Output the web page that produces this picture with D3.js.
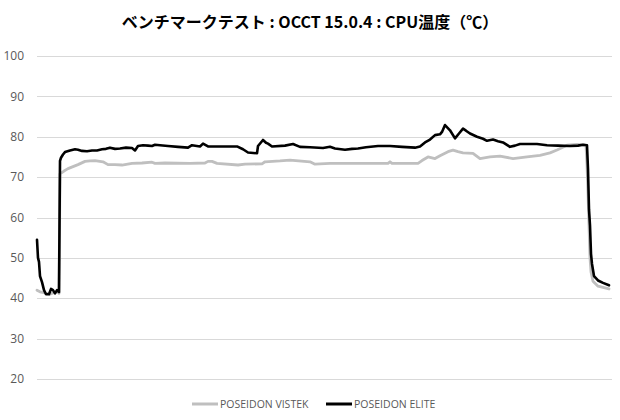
<!DOCTYPE html>
<html lang="ja">
<head>
<meta charset="UTF-8">
<title>OCCT CPU温度</title>
<script src="https://cdnjs.cloudflare.com/ajax/libs/d3/7.8.5/d3.min.js"></script>
<style>
    body { margin: 0; background: #fff; }
    .grid line { stroke: #d9d9d9; stroke-width: 1; }
    .tick-label { font-family: "Open Sans", "Noto Sans", sans-serif; font-size: 12px; fill: #595959; }
    .title { font-family: "Noto Sans CJK JP", sans-serif; font-size: 16px; font-weight: bold; fill: #000; }
    .legend text { font-family: "Open Sans", "Noto Sans", sans-serif; font-size: 10.5px; fill: #595959; }
    .series { fill: none; stroke-linejoin: round; stroke-linecap: round; }
</style>
</head>
<body>
<div id="chart"></div>
<script>
    // sample index (time) and temperature
    const tVistek = [0, 3, 8, 13, 18, 21, 22, 23, 27, 31, 36, 41, 48, 53, 58, 66, 71, 78, 85, 95, 105, 115, 118,
        128, 153, 168, 171, 175, 180, 201, 208, 225, 228, 243, 253, 273, 278, 293, 351, 353, 355, 381, 385,
        391, 398, 403, 411, 416, 421, 426, 436, 443, 453, 463, 476, 490, 503, 513, 520, 530, 540, 548, 549,
        550, 551, 552, 553, 554, 556, 561, 566, 572];
    const vistek = [42, 41.6, 41.3, 41, 41.5, 41.5, 41.2, 70.8, 71.5, 72.1, 72.6, 73.1, 73.9, 74, 74.1, 73.8,
        73.1, 73.1, 73, 73.4, 73.5, 73.7, 73.4, 73.5, 73.4, 73.5, 73.9, 73.9, 73.4, 73, 73.2, 73.3, 73.8, 74,
        74.2, 73.8, 73.2, 73.4, 73.4, 73.8, 73.4, 73.4, 74.1, 75, 74.6, 75.3, 76.3, 76.7, 76.3, 76, 75.9,
        74.6, 75, 75.2, 74.6, 75, 75.4, 76, 76.7, 77.9, 78.1, 77.9, 77.8, 73, 66, 58, 50, 46.5, 44.2, 43,
        42.7, 42.3];

    const tElite = [0, 1, 2, 3, 5, 7, 9, 12, 14, 16, 18, 20, 22, 23, 24, 26, 28, 33, 38, 41, 45, 50, 55, 60, 65,
        69, 73, 78, 83, 89, 95, 98, 101, 106, 111, 115, 118, 123, 131, 141, 151, 155, 163, 166, 171, 200, 206,
        211, 220, 221, 226, 229, 231, 235, 248, 256, 263, 273, 286, 293, 298, 308, 315, 321, 329, 341, 353,
        365, 378, 383, 388, 393, 398, 403, 405, 408, 413, 418, 422, 426, 429, 433, 440, 446, 450, 456, 461,
        466, 473, 478, 483, 500, 510, 521, 533, 541, 546, 550, 551, 552, 553, 554, 555, 557, 561, 566, 572];
    const elite = [54.5, 50, 49, 45.5, 44, 42, 41, 41, 42.3, 42, 41.2, 42, 41.5, 74, 74.8, 75.6, 76.2, 76.6,
        76.9, 76.8, 76.5, 76.4, 76.6, 76.6, 76.9, 77, 77.3, 77, 77.1, 77.3, 77.2, 76.6, 77.7, 77.9, 77.8,
        77.7, 78, 77.9, 77.7, 77.5, 77.3, 77.9, 77.6, 78.3, 77.6, 77.6, 76.9, 76.1, 75.9, 77.7, 79.2, 78.5,
        78.3, 77.6, 77.8, 78.2, 77.5, 77.4, 77.2, 77.5, 77.1, 76.8, 77, 77.1, 77.4, 77.7, 77.7, 77.5, 77.3,
        77.6, 78.6, 79.3, 80.4, 80.6, 81.2, 82.9, 81.6, 79.6, 80.8, 82, 81.5, 80.8, 80, 79.5, 79, 79.3, 78.9,
        78.6, 77.5, 77.8, 78.2, 78.2, 77.9, 77.8, 77.7, 77.8, 78, 77.9, 72, 62, 58, 51, 48.5, 45.5, 44.4,
        43.8, 43.2];

    const yTicks = [20, 30, 40, 50, 60, 70, 80, 90, 100];
    const seriesNames = ["POSEIDON VISTEK", "POSEIDON ELITE"];
    const seriesColors = ["#bfbfbf", "#000000"];

    const width = 620, height = 420;
    const svg = d3.select("#chart").append("svg")
        .attr("width", width)
        .attr("height", height);

    const x = d3.scaleLinear().domain([0, 572]).range([37, 609]);
    const y = d3.scaleLinear().domain([20, 100]).range([379, 56]);

    svg.append("text")
        .attr("class", "title")
        .attr("x", 310)
        .attr("y", 28)
        .attr("text-anchor", "middle")
        .text("ベンチマークテスト : OCCT 15.0.4 : CPU温度（℃）");

    // gridlines + tick labels
    const grid = svg.append("g").attr("class", "grid");
    grid.selectAll("line")
        .data(yTicks)
        .enter().append("line")
        .attr("x1", 37)
        .attr("x2", 612)
        .attr("y1", d => Math.round(y(d)) + 0.5)
        .attr("y2", d => Math.round(y(d)) + 0.5);

    svg.selectAll(".tick-label")
        .data(yTicks)
        .enter().append("text")
        .attr("class", "tick-label")
        .attr("x", 24)
        .attr("y", d => y(d))
        .attr("dy", "0.35em")
        .attr("text-anchor", "end")
        .text(d => d);

    const line = d3.line()
        .x(d => x(d[0]))
        .y(d => y(d[1]));

    const seriesData = [
        d3.zip(tVistek, vistek),
        d3.zip(tElite, elite)
    ];

    svg.selectAll(".series")
        .data(seriesData)
        .enter().append("path")
        .attr("class", "series")
        .attr("stroke", (d, i) => seriesColors[i])
        .attr("stroke-width", (d, i) => i === 0 ? 2.8 : 2.6)
        .attr("d", line);

    // legend
    const legendX = [192, 326];
    const legend = svg.append("g").attr("class", "legend");
    seriesNames.forEach((name, i) => {
        legend.append("line")
            .attr("x1", legendX[i])
            .attr("x2", legendX[i] + 26)
            .attr("y1", 404)
            .attr("y2", 404)
            .attr("stroke", seriesColors[i])
            .attr("stroke-width", 3);
        legend.append("text")
            .attr("x", legendX[i] + 28)
            .attr("y", 404)
            .attr("dy", "0.35em")
            .text(name);
    });
</script>
</body>
</html>
